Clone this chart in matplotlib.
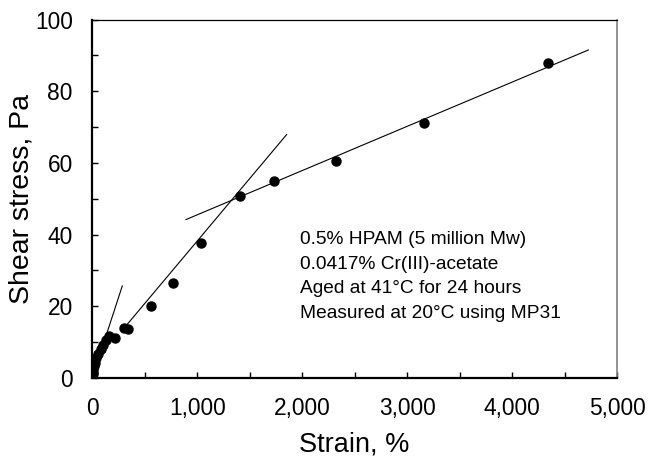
import matplotlib
matplotlib.use("Agg")
import matplotlib.pyplot as plt
from matplotlib.ticker import MultipleLocator, FuncFormatter

plt.rcParams['font.family'] = ['Liberation Sans', 'DejaVu Sans']

# measured points (strain %, shear stress Pa)
strain = [0.5, 2, 4, 7, 11, 17, 26, 40, 58, 80, 105, 130, 160, 215,
          300, 340, 560, 766, 1033, 1407, 1731, 2319, 3158, 4340]
stress = [0.2, 0.6, 1.2, 1.8, 2.5, 3.3, 4.3, 5.5, 6.8, 8.0, 9.3, 10.5, 11.8, 11.3,
          13.9, 13.6, 20.0, 26.5, 37.6, 50.8, 55.0, 60.5, 71.0, 87.8]

# hand-drawn trend lines (end points)
fit1_x = [0, 286]
fit1_y = [0, 25.7]
fit2_x = [328, 1852]
fit2_y = [14.8, 67.9]
fit3_x = [893, 4727]
fit3_y = [44.2, 91.5]

note = ["0.5% HPAM (5 million Mw)",
        "0.0417% Cr(III)-acetate",
        "Aged at 41\u00b0C for 24 hours",
        "Measured at 20\u00b0C using MP31"]

fig = plt.figure(figsize=(6.49, 4.61), dpi=100)
ax = fig.add_axes([0.1422, 0.180, 0.8085, 0.7777])

for fx, fy in [(fit1_x, fit1_y), (fit2_x, fit2_y), (fit3_x, fit3_y)]:
    ax.plot(fx, fy, color='black', linewidth=0.8, zorder=2)
ax.plot(strain, stress, 'o', color='black', markersize=6.5, zorder=3)

ax.set_xlim(0, 5000)
ax.set_ylim(0, 100)
ax.xaxis.set_major_locator(MultipleLocator(1000))
ax.xaxis.set_minor_locator(MultipleLocator(500))
ax.yaxis.set_major_locator(MultipleLocator(20))
ax.yaxis.set_minor_locator(MultipleLocator(10))
ax.xaxis.set_major_formatter(FuncFormatter(lambda v, p: f"{int(v):,}"))

ax.tick_params(which='both', direction='in', length=4, width=1,
               top=False, right=False, labelsize=16.4, pad=14, colors='black')

ax.spines['left'].set_linewidth(1.6)
ax.spines['bottom'].set_linewidth(1.6)
ax.spines['top'].set_linewidth(0.9)
ax.spines['right'].set_linewidth(1.2)
ax.spines['right'].set_color('#808080')

ax.set_xlabel("Strain, %", fontsize=19.5, labelpad=8)
ax.set_ylabel("Shear stress, Pa", fontsize=20.5, labelpad=0)

for i, line in enumerate(note):
    ax.text(1975, 38.5 - i * 6.8, line, fontsize=13.8, va='center', ha='left')

fig.savefig("out.png", dpi=100)
